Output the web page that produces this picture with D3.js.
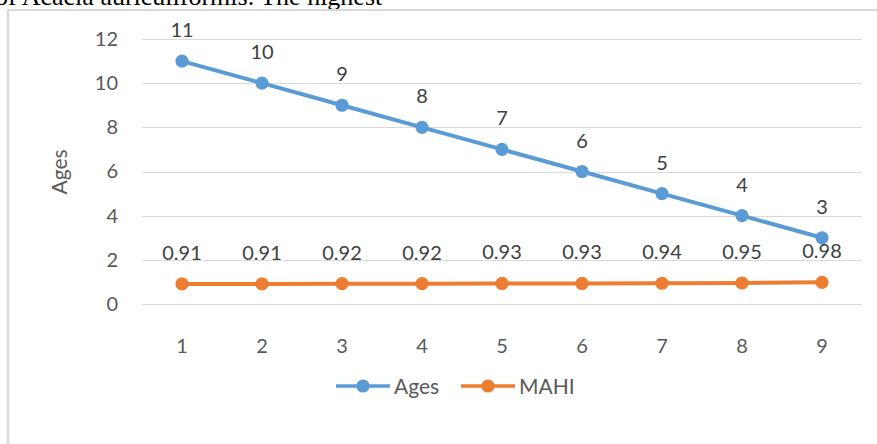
<!DOCTYPE html>
<html><head><meta charset="utf-8">
<script src="https://cdn.jsdelivr.net/npm/d3@7"></script>
<style>body{margin:0;background:#fff;} svg{display:block;}</style>
</head><body>
<svg id="c" width="877" height="444"></svg>
<script>
const categories = [1,2,3,4,5,6,7,8,9];
const ages = [11,10,9,8,7,6,5,4,3];
const mahi = [0.91,0.91,0.92,0.92,0.93,0.93,0.94,0.95,0.98];
const yTicks = [0,2,4,6,8,10,12];
const seriesNames = ["Ages","MAHI"];
const colors = ["#5b9bd5","#ed7d31"];

const svg = d3.select("#c");
const font = "Lato, 'Open Sans', sans-serif";
const textCol = "#595959";

// surrounding document text (clipped at top edge, as in the source)
svg.append("text").attr("x",-5).attr("y",5).attr("font-family","'Liberation Serif', serif")
  .attr("font-size",26).attr("fill","#000").text("of Acacia auriculiformis. The highest");

// chart frame
svg.append("line").attr("x1",7).attr("x2",877).attr("y1",10).attr("y2",10).attr("stroke","#d9d9d9").attr("stroke-width",2);
svg.append("line").attr("x1",8).attr("x2",8).attr("y1",9).attr("y2",444).attr("stroke","#d9d9d9").attr("stroke-width",2.5);

const x = d3.scaleBand().domain(categories).range([142,862]);
const y = d3.scaleLinear().domain([0,12]).range([304,39]);
const cx = d => x(d) + x.bandwidth()/2;

// gridlines
svg.append("g").selectAll("line").data(yTicks).join("line")
  .attr("x1",142).attr("x2",862).attr("y1",d=>Math.round(y(d))+0.5).attr("y2",d=>Math.round(y(d))+0.5)
  .attr("stroke","#d9d9d9").attr("stroke-width",1.2);

// y axis labels
const yAxis = svg.append("g").attr("transform","translate(118,0)")
  .call(d3.axisLeft(y).tickValues(yTicks).tickSize(0).tickPadding(0));
yAxis.select(".domain").remove();
yAxis.selectAll("text").attr("font-family",font).attr("font-size",20).attr("fill",textCol);

// x axis labels
const xAxis = svg.append("g").attr("transform","translate(0,353)")
  .call(d3.axisBottom(x).tickSize(0).tickPadding(0));
xAxis.select(".domain").remove();
xAxis.selectAll("text").attr("font-family",font).attr("font-size",20).attr("fill",textCol).attr("dy",0);

// y title
svg.append("text").attr("transform","translate(67,172) rotate(-90)").attr("text-anchor","middle")
  .attr("font-family",font).attr("font-size",21).attr("fill",textCol).text("Ages");

const data = [ages, mahi];
data.forEach((vals,i)=>{
  const pts = categories.map((c,j)=>[cx(c), y(vals[j])]);
  svg.append("path").attr("d", d3.line()(pts)).attr("fill","none")
    .attr("stroke",colors[i]).attr("stroke-width",4).attr("stroke-linejoin","round");
  svg.append("g").selectAll("circle").data(pts).join("circle")
    .attr("cx",d=>d[0]).attr("cy",d=>d[1]).attr("r",6.6).attr("fill",colors[i]);
  svg.append("g").selectAll("text").data(vals).join("text")
    .attr("x",(d,j)=>cx(categories[j])).attr("y",(d,j)=>y(d)-24)
    .attr("text-anchor","middle").attr("font-family",font).attr("font-size",20).attr("fill","#404040")
    .text(d=>d);
});

// legend
const legX = [336, 461];
seriesNames.forEach((n,i)=>{
  const g = svg.append("g").attr("transform",`translate(${legX[i]},386)`);
  g.append("line").attr("x1",0).attr("x2",54).attr("y1",0).attr("y2",0).attr("stroke",colors[i]).attr("stroke-width",3.5);
  g.append("circle").attr("cx",27).attr("cy",0).attr("r",6.6).attr("fill",colors[i]);
  g.append("text").attr("x",58).attr("y",0).attr("dy","0.36em").attr("font-family",font).attr("font-size",21).attr("fill",textCol).text(n);
});
</script>
</body></html>
